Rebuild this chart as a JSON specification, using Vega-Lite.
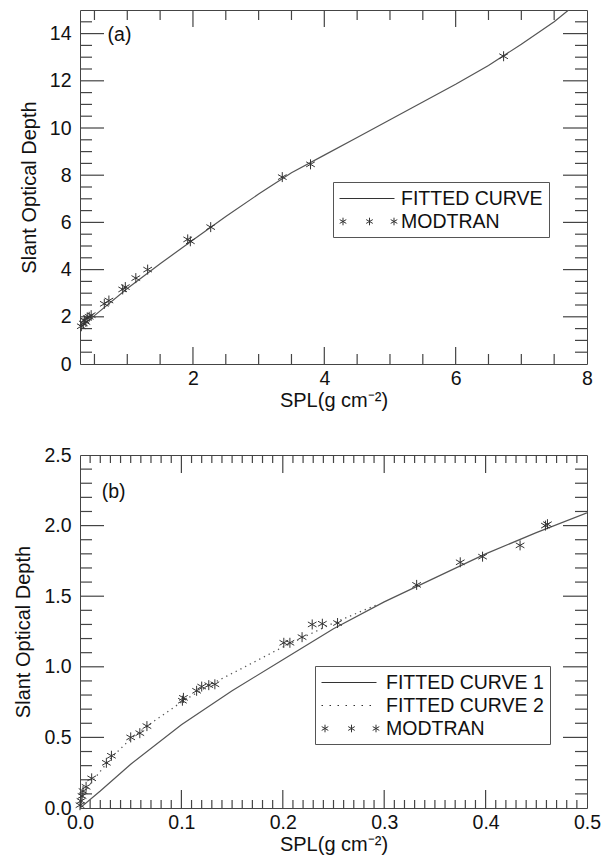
{
  "$schema": "https://vega.github.io/schema/vega-lite/v6.json",
  "padding": {"top": 7, "left": 13, "right": 5, "bottom": 5},
  "spacing": 33,
  "resolve": {"scale": {"shape": "independent"}, "legend": {"shape": "independent"}},
  "config": {
    "font": "Liberation Sans",
    "view": {"stroke": "#444", "strokeWidth": 1},
    "axis": {"domain": false, "ticks": false, "grid": false, "labelFont": "Liberation Sans", "labelFontSize": 19.5, "labelColor": "#111", "titleFont": "Liberation Sans", "titleFontSize": 20, "titleFontWeight": "normal", "titleColor": "#111", "labelFlush": false, "labelOverlap": false},
    "legend": {"labelFont": "Liberation Sans", "labelFontSize": 19.5, "labelColor": "#111", "symbolStrokeWidth": 1, "strokeColor": "#555", "fillColor": "white", "padding": 6, "rowPadding": 3}
  },
  "datasets": {
    "curveA": [
      {"spl": 0.28, "sod": 1.55}, {"spl": 0.5, "sod": 2.05}, {"spl": 1.0, "sod": 3.2}, {"spl": 1.5, "sod": 4.25}, {"spl": 2.0, "sod": 5.25}, {"spl": 2.5, "sod": 6.25}, {"spl": 3.0, "sod": 7.2}, {"spl": 3.5, "sod": 8.1}, {"spl": 4.0, "sod": 8.85}, {"spl": 4.5, "sod": 9.6}, {"spl": 5.0, "sod": 10.35}, {"spl": 5.5, "sod": 11.1}, {"spl": 6.0, "sod": 11.85}, {"spl": 6.5, "sod": 12.65}, {"spl": 7.0, "sod": 13.55}, {"spl": 7.5, "sod": 14.5}, {"spl": 7.72, "sod": 15.0}
    ],
    "starsA": [
      {"spl": 0.30, "sod": 1.6}, {"spl": 0.33, "sod": 1.72}, {"spl": 0.35, "sod": 1.85}, {"spl": 0.37, "sod": 1.78}, {"spl": 0.39, "sod": 1.95}, {"spl": 0.42, "sod": 2.0}, {"spl": 0.45, "sod": 2.07}, {"spl": 0.65, "sod": 2.55}, {"spl": 0.72, "sod": 2.69}, {"spl": 0.93, "sod": 3.16}, {"spl": 0.97, "sod": 3.26}, {"spl": 1.13, "sod": 3.64}, {"spl": 1.31, "sod": 4.0}, {"spl": 1.92, "sod": 5.28}, {"spl": 1.96, "sod": 5.2}, {"spl": 2.27, "sod": 5.8}, {"spl": 3.36, "sod": 7.92}, {"spl": 3.79, "sod": 8.46}, {"spl": 6.73, "sod": 13.04}
    ],
    "xmajA": [{"v": 2}, {"v": 4}, {"v": 6}],
    "xminA": [{"v": 0.5}, {"v": 1}, {"v": 1.5}, {"v": 2.5}, {"v": 3}, {"v": 3.5}, {"v": 4.5}, {"v": 5}, {"v": 5.5}, {"v": 6.5}, {"v": 7}, {"v": 7.5}],
    "ymajA": [{"v": 2}, {"v": 4}, {"v": 6}, {"v": 8}, {"v": 10}, {"v": 12}, {"v": 14}],
    "yminA": [{"v": 0.5}, {"v": 1}, {"v": 1.5}, {"v": 2.5}, {"v": 3}, {"v": 3.5}, {"v": 4.5}, {"v": 5}, {"v": 5.5}, {"v": 6.5}, {"v": 7}, {"v": 7.5}, {"v": 8.5}, {"v": 9}, {"v": 9.5}, {"v": 10.5}, {"v": 11}, {"v": 11.5}, {"v": 12.5}, {"v": 13}, {"v": 13.5}, {"v": 14.5}],
    "xmajB": [{"v": 0.1}, {"v": 0.2}, {"v": 0.3}, {"v": 0.4}],
    "xminB": [{"v": 0.01}, {"v": 0.02}, {"v": 0.03}, {"v": 0.04}, {"v": 0.05}, {"v": 0.06}, {"v": 0.07}, {"v": 0.08}, {"v": 0.09}, {"v": 0.11}, {"v": 0.12}, {"v": 0.13}, {"v": 0.14}, {"v": 0.15}, {"v": 0.16}, {"v": 0.17}, {"v": 0.18}, {"v": 0.19}, {"v": 0.21}, {"v": 0.22}, {"v": 0.23}, {"v": 0.24}, {"v": 0.25}, {"v": 0.26}, {"v": 0.27}, {"v": 0.28}, {"v": 0.29}, {"v": 0.31}, {"v": 0.32}, {"v": 0.33}, {"v": 0.34}, {"v": 0.35}, {"v": 0.36}, {"v": 0.37}, {"v": 0.38}, {"v": 0.39}, {"v": 0.41}, {"v": 0.42}, {"v": 0.43}, {"v": 0.44}, {"v": 0.45}, {"v": 0.46}, {"v": 0.47}, {"v": 0.48}, {"v": 0.49}],
    "ymajB": [{"v": 0.5}, {"v": 1.0}, {"v": 1.5}, {"v": 2.0}],
    "yminB": [{"v": 0.1}, {"v": 0.2}, {"v": 0.3}, {"v": 0.4}, {"v": 0.6}, {"v": 0.7}, {"v": 0.8}, {"v": 0.9}, {"v": 1.1}, {"v": 1.2}, {"v": 1.3}, {"v": 1.4}, {"v": 1.6}, {"v": 1.7}, {"v": 1.8}, {"v": 1.9}, {"v": 2.1}, {"v": 2.2}, {"v": 2.3}, {"v": 2.4}],
    "curveB1": [
      {"spl": 0, "sod": 0}, {"spl": 0.02, "sod": 0.12}, {"spl": 0.05, "sod": 0.31}, {"spl": 0.1, "sod": 0.59}, {"spl": 0.15, "sod": 0.83}, {"spl": 0.2, "sod": 1.05}, {"spl": 0.25, "sod": 1.27}, {"spl": 0.3, "sod": 1.46}, {"spl": 0.35, "sod": 1.63}, {"spl": 0.4, "sod": 1.8}, {"spl": 0.45, "sod": 1.95}, {"spl": 0.5, "sod": 2.09}
    ],
    "curveB2": [
      {"spl": 0, "sod": 0}, {"spl": 0.002, "sod": 0.06}, {"spl": 0.005, "sod": 0.11}, {"spl": 0.01, "sod": 0.17}, {"spl": 0.02, "sod": 0.26}, {"spl": 0.03, "sod": 0.35}, {"spl": 0.05, "sod": 0.49}, {"spl": 0.07, "sod": 0.6}, {"spl": 0.1, "sod": 0.75}, {"spl": 0.13, "sod": 0.88}, {"spl": 0.16, "sod": 0.99}, {"spl": 0.2, "sod": 1.14}, {"spl": 0.25, "sod": 1.31}, {"spl": 0.293, "sod": 1.44}
    ],
    "starsB": [
      {"spl": 0.0, "sod": 0.02}, {"spl": 0.001, "sod": 0.05}, {"spl": 0.002, "sod": 0.085}, {"spl": 0.003, "sod": 0.12}, {"spl": 0.006, "sod": 0.15}, {"spl": 0.0115, "sod": 0.21}, {"spl": 0.026, "sod": 0.32}, {"spl": 0.031, "sod": 0.37}, {"spl": 0.05, "sod": 0.5}, {"spl": 0.059, "sod": 0.53}, {"spl": 0.066, "sod": 0.58}, {"spl": 0.101, "sod": 0.76}, {"spl": 0.102, "sod": 0.78}, {"spl": 0.115, "sod": 0.83}, {"spl": 0.12, "sod": 0.86}, {"spl": 0.127, "sod": 0.87}, {"spl": 0.133, "sod": 0.876}, {"spl": 0.201, "sod": 1.17}, {"spl": 0.207, "sod": 1.17}, {"spl": 0.219, "sod": 1.21}, {"spl": 0.229, "sod": 1.3}, {"spl": 0.239, "sod": 1.305}, {"spl": 0.254, "sod": 1.31}, {"spl": 0.332, "sod": 1.58}, {"spl": 0.375, "sod": 1.74}, {"spl": 0.397, "sod": 1.78}, {"spl": 0.434, "sod": 1.86}, {"spl": 0.459, "sod": 2.0}, {"spl": 0.461, "sod": 2.01}
    ]
  },
  "vconcat": [
    {
      "width": 507,
      "height": 354,
      "resolve": {"axis": {"x": "independent", "y": "independent"}},
      "layer": [
        {"data": {"name": "xmajA"}, "mark": {"type": "point", "shape": "M0,0L0,-1", "size": 1156, "filled": false, "color": "#444", "strokeWidth": 1.2, "opacity": 1},
         "encoding": {"x": {"field": "v", "type": "quantitative", "scale": {"domain": [0.28, 8], "nice": false, "zero": false}, "axis": null}, "y": {"datum": 0, "type": "quantitative", "scale": {"domain": [0, 15], "nice": false}, "axis": null}}},
        {"data": {"name": "xmajA"}, "mark": {"type": "point", "shape": "M0,0L0,1", "size": 1156, "filled": false, "color": "#444", "strokeWidth": 1.2, "opacity": 1},
         "encoding": {"x": {"field": "v", "type": "quantitative", "scale": {"domain": [0.28, 8], "nice": false, "zero": false}, "axis": null}, "y": {"datum": 15, "type": "quantitative", "scale": {"domain": [0, 15], "nice": false}, "axis": null}}},
        {"data": {"name": "xminA"}, "mark": {"type": "point", "shape": "M0,0L0,-1", "size": 400, "filled": false, "color": "#444", "strokeWidth": 1.2, "opacity": 1},
         "encoding": {"x": {"field": "v", "type": "quantitative", "scale": {"domain": [0.28, 8], "nice": false, "zero": false}, "axis": null}, "y": {"datum": 0, "type": "quantitative", "scale": {"domain": [0, 15], "nice": false}, "axis": null}}},
        {"data": {"name": "xminA"}, "mark": {"type": "point", "shape": "M0,0L0,1", "size": 400, "filled": false, "color": "#444", "strokeWidth": 1.2, "opacity": 1},
         "encoding": {"x": {"field": "v", "type": "quantitative", "scale": {"domain": [0.28, 8], "nice": false, "zero": false}, "axis": null}, "y": {"datum": 15, "type": "quantitative", "scale": {"domain": [0, 15], "nice": false}, "axis": null}}},
        {"data": {"name": "ymajA"}, "mark": {"type": "point", "shape": "M0,0L1,0", "size": 2304, "filled": false, "color": "#444", "strokeWidth": 1.2, "opacity": 1},
         "encoding": {"y": {"field": "v", "type": "quantitative", "scale": {"domain": [0, 15], "nice": false}, "axis": null}, "x": {"datum": 0.28, "type": "quantitative", "scale": {"domain": [0.28, 8], "nice": false, "zero": false}, "axis": null}}},
        {"data": {"name": "ymajA"}, "mark": {"type": "point", "shape": "M0,0L-1,0", "size": 2304, "filled": false, "color": "#444", "strokeWidth": 1.2, "opacity": 1},
         "encoding": {"y": {"field": "v", "type": "quantitative", "scale": {"domain": [0, 15], "nice": false}, "axis": null}, "x": {"datum": 8, "type": "quantitative", "scale": {"domain": [0.28, 8], "nice": false, "zero": false}, "axis": null}}},
        {"data": {"name": "yminA"}, "mark": {"type": "point", "shape": "M0,0L1,0", "size": 576, "filled": false, "color": "#444", "strokeWidth": 1.2, "opacity": 1},
         "encoding": {"y": {"field": "v", "type": "quantitative", "scale": {"domain": [0, 15], "nice": false}, "axis": null}, "x": {"datum": 0.28, "type": "quantitative", "scale": {"domain": [0.28, 8], "nice": false, "zero": false}, "axis": null}}},
        {"data": {"name": "yminA"}, "mark": {"type": "point", "shape": "M0,0L-1,0", "size": 576, "filled": false, "color": "#444", "strokeWidth": 1.2, "opacity": 1},
         "encoding": {"y": {"field": "v", "type": "quantitative", "scale": {"domain": [0, 15], "nice": false}, "axis": null}, "x": {"datum": 8, "type": "quantitative", "scale": {"domain": [0.28, 8], "nice": false, "zero": false}, "axis": null}}},
        {
          "data": {"name": "curveA"},
          "mark": {"type": "line", "color": "#555", "strokeWidth": 1.2, "clip": true},
          "encoding": {
            "x": {"field": "spl", "type": "quantitative", "scale": {"domain": [0.28, 8], "nice": false, "zero": false}, "axis": {"orient": "bottom", "values": [2, 4, 6, 8], "format": "d", "title": "SPL(g cm⁻²)", "labelPadding": 5, "titlePadding": 3}},
            "y": {"field": "sod", "type": "quantitative", "scale": {"domain": [0, 15], "nice": false}, "axis": {"orient": "left", "values": [0, 2, 4, 6, 8, 10, 12, 14], "format": "d", "title": "Slant Optical Depth", "labelPadding": 9, "titlePadding": 10}}
          }
        },
        {
          "data": {"name": "starsA"},
          "mark": {"type": "point", "shape": "M0,-1L0,1M-0.866,-0.5L0.866,0.5M-0.866,0.5L0.866,-0.5", "size": 100, "filled": false, "color": "#333", "strokeWidth": 1, "opacity": 1},
          "encoding": {
            "x": {"field": "spl", "type": "quantitative", "scale": {"domain": [0.28, 8], "nice": false, "zero": false}, "axis": null},
            "y": {"field": "sod", "type": "quantitative", "scale": {"domain": [0, 15], "nice": false}, "axis": null}
          }
        },
        {
          "data": {"values": [{"series": "FITTED CURVE"}, {"series": "MODTRAN"}]},
          "mark": {"type": "point", "filled": false, "color": "#333", "strokeWidth": 1, "opacity": 0},
          "encoding": {
            "shape": {
              "field": "series", "type": "nominal",
              "scale": {"domain": ["FITTED CURVE", "MODTRAN"], "range": ["M-1,0L4.5,0", "M-0.65,-0.38L-0.65,0.38M-0.979,-0.19L-0.321,0.19M-0.979,0.19L-0.321,-0.19M2,-0.38L2,0.38M1.671,-0.19L2.329,0.19M1.671,0.19L2.329,-0.19M4.45,-0.38L4.45,0.38M4.121,-0.19L4.779,0.19M4.121,0.19L4.779,-0.19"]},
              "legend": {"orient": "none", "legendX": 253, "legendY": 172, "title": null, "symbolSize": 400, "labelOffset": 41, "symbolStrokeColor": "#333", "symbolOpacity": 1}
            }
          }
        },
        {
          "data": {"values": [{"panel": "(a)"}]},
          "mark": {"type": "text", "align": "left", "baseline": "middle", "fontSize": 19.5, "font": "Liberation Sans", "color": "#111"},
          "encoding": {
            "x": {"datum": 0.7, "type": "quantitative", "scale": {"domain": [0.28, 8], "nice": false, "zero": false}, "axis": null},
            "y": {"datum": 13.95, "type": "quantitative", "scale": {"domain": [0, 15], "nice": false}, "axis": null},
            "text": {"field": "panel"}
          }
        }
      ]
    },
    {
      "width": 507,
      "height": 353,
      "resolve": {"axis": {"x": "independent", "y": "independent"}},
      "layer": [
        {"data": {"name": "xmajB"}, "mark": {"type": "point", "shape": "M0,0L0,-1", "size": 1296, "filled": false, "color": "#444", "strokeWidth": 1.2, "opacity": 1},
         "encoding": {"x": {"field": "v", "type": "quantitative", "scale": {"domain": [0, 0.5], "nice": false}, "axis": null}, "y": {"datum": 0, "type": "quantitative", "scale": {"domain": [0, 2.5], "nice": false}, "axis": null}}},
        {"data": {"name": "xmajB"}, "mark": {"type": "point", "shape": "M0,0L0,1", "size": 1296, "filled": false, "color": "#444", "strokeWidth": 1.2, "opacity": 1},
         "encoding": {"x": {"field": "v", "type": "quantitative", "scale": {"domain": [0, 0.5], "nice": false}, "axis": null}, "y": {"datum": 2.5, "type": "quantitative", "scale": {"domain": [0, 2.5], "nice": false}, "axis": null}}},
        {"data": {"name": "xminB"}, "mark": {"type": "point", "shape": "M0,0L0,-1", "size": 256, "filled": false, "color": "#444", "strokeWidth": 1.2, "opacity": 1},
         "encoding": {"x": {"field": "v", "type": "quantitative", "scale": {"domain": [0, 0.5], "nice": false}, "axis": null}, "y": {"datum": 0, "type": "quantitative", "scale": {"domain": [0, 2.5], "nice": false}, "axis": null}}},
        {"data": {"name": "xminB"}, "mark": {"type": "point", "shape": "M0,0L0,1", "size": 256, "filled": false, "color": "#444", "strokeWidth": 1.2, "opacity": 1},
         "encoding": {"x": {"field": "v", "type": "quantitative", "scale": {"domain": [0, 0.5], "nice": false}, "axis": null}, "y": {"datum": 2.5, "type": "quantitative", "scale": {"domain": [0, 2.5], "nice": false}, "axis": null}}},
        {"data": {"name": "ymajB"}, "mark": {"type": "point", "shape": "M0,0L1,0", "size": 2304, "filled": false, "color": "#444", "strokeWidth": 1.2, "opacity": 1},
         "encoding": {"y": {"field": "v", "type": "quantitative", "scale": {"domain": [0, 2.5], "nice": false}, "axis": null}, "x": {"datum": 0, "type": "quantitative", "scale": {"domain": [0, 0.5], "nice": false}, "axis": null}}},
        {"data": {"name": "ymajB"}, "mark": {"type": "point", "shape": "M0,0L-1,0", "size": 2304, "filled": false, "color": "#444", "strokeWidth": 1.2, "opacity": 1},
         "encoding": {"y": {"field": "v", "type": "quantitative", "scale": {"domain": [0, 2.5], "nice": false}, "axis": null}, "x": {"datum": 0.5, "type": "quantitative", "scale": {"domain": [0, 0.5], "nice": false}, "axis": null}}},
        {"data": {"name": "yminB"}, "mark": {"type": "point", "shape": "M0,0L1,0", "size": 576, "filled": false, "color": "#444", "strokeWidth": 1.2, "opacity": 1},
         "encoding": {"y": {"field": "v", "type": "quantitative", "scale": {"domain": [0, 2.5], "nice": false}, "axis": null}, "x": {"datum": 0, "type": "quantitative", "scale": {"domain": [0, 0.5], "nice": false}, "axis": null}}},
        {"data": {"name": "yminB"}, "mark": {"type": "point", "shape": "M0,0L-1,0", "size": 576, "filled": false, "color": "#444", "strokeWidth": 1.2, "opacity": 1},
         "encoding": {"y": {"field": "v", "type": "quantitative", "scale": {"domain": [0, 2.5], "nice": false}, "axis": null}, "x": {"datum": 0.5, "type": "quantitative", "scale": {"domain": [0, 0.5], "nice": false}, "axis": null}}},
        {
          "data": {"name": "curveB1"},
          "mark": {"type": "line", "color": "#555", "strokeWidth": 1.2, "clip": true},
          "encoding": {
            "x": {"field": "spl", "type": "quantitative", "scale": {"domain": [0, 0.5], "nice": false}, "axis": {"orient": "bottom", "values": [0, 0.1, 0.2, 0.3, 0.4, 0.5], "format": ".1f", "title": "SPL(g cm⁻²)", "labelPadding": 5, "titlePadding": 3}},
            "y": {"field": "sod", "type": "quantitative", "scale": {"domain": [0, 2.5], "nice": false}, "axis": {"orient": "left", "values": [0, 0.5, 1, 1.5, 2, 2.5], "format": ".1f", "title": "Slant Optical Depth", "labelPadding": 9, "titlePadding": 10}}
          }
        },
        {
          "data": {"name": "curveB2"},
          "mark": {"type": "line", "color": "#555", "strokeWidth": 1.3, "strokeDash": [1.3, 4], "clip": true},
          "encoding": {
            "x": {"field": "spl", "type": "quantitative", "scale": {"domain": [0, 0.5], "nice": false}, "axis": null},
            "y": {"field": "sod", "type": "quantitative", "scale": {"domain": [0, 2.5], "nice": false}, "axis": null}
          }
        },
        {
          "data": {"name": "starsB"},
          "mark": {"type": "point", "shape": "M0,-1L0,1M-0.866,-0.5L0.866,0.5M-0.866,0.5L0.866,-0.5", "size": 100, "filled": false, "color": "#333", "strokeWidth": 1, "opacity": 1},
          "encoding": {
            "x": {"field": "spl", "type": "quantitative", "scale": {"domain": [0, 0.5], "nice": false}, "axis": null},
            "y": {"field": "sod", "type": "quantitative", "scale": {"domain": [0, 2.5], "nice": false}, "axis": null}
          }
        },
        {
          "data": {"values": [{"series": "FITTED CURVE 1"}, {"series": "FITTED CURVE 2"}, {"series": "MODTRAN"}]},
          "mark": {"type": "point", "filled": false, "color": "#333", "strokeWidth": 1, "opacity": 0},
          "encoding": {
            "shape": {
              "field": "series", "type": "nominal",
              "scale": {"domain": ["FITTED CURVE 1", "FITTED CURVE 2", "MODTRAN"], "range": ["M-1,0L4.5,0", "M-1,0L-0.85,0M-0.2,0L-0.05,0M0.6,0L0.75,0M1.4,0L1.55,0M2.2,0L2.35,0M3,0L3.15,0M3.8,0L3.95,0", "M-0.65,-0.38L-0.65,0.38M-0.979,-0.19L-0.321,0.19M-0.979,0.19L-0.321,-0.19M2,-0.38L2,0.38M1.671,-0.19L2.329,0.19M1.671,0.19L2.329,-0.19M4.45,-0.38L4.45,0.38M4.121,-0.19L4.779,0.19M4.121,0.19L4.779,-0.19"]},
              "legend": {"orient": "none", "legendX": 235, "legendY": 211, "title": null, "symbolSize": 400, "labelOffset": 44, "symbolStrokeColor": "#333", "symbolOpacity": 1}
            }
          }
        },
        {
          "data": {"values": [{"panel": "(b)"}]},
          "mark": {"type": "text", "align": "left", "baseline": "middle", "fontSize": 19.5, "font": "Liberation Sans", "color": "#111"},
          "encoding": {
            "x": {"datum": 0.0214, "type": "quantitative", "scale": {"domain": [0, 0.5], "nice": false}, "axis": null},
            "y": {"datum": 2.24, "type": "quantitative", "scale": {"domain": [0, 2.5], "nice": false}, "axis": null},
            "text": {"field": "panel"}
          }
        }
      ]
    }
  ]
}
